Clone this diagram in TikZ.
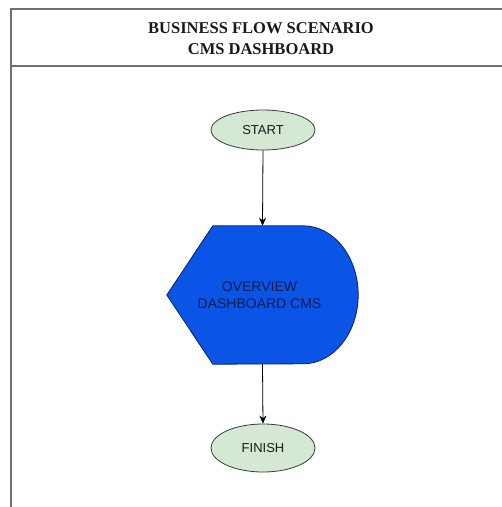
\documentclass[tikz,border=0pt]{standalone}
\usepackage{fontspec}
\setmainfont{Liberation Serif}
\newfontfamily\arialfont{Liberation Sans}
\usetikzlibrary{calc,arrows.meta,shapes.geometric}
\definecolor{framegray}{HTML}{707070}
\definecolor{termfill}{HTML}{D5E8D4}
\definecolor{termdraw}{HTML}{3A3A3A}
\definecolor{dispfill}{HTML}{0A54E6}
\definecolor{dispdraw}{HTML}{0A1E6E}
\definecolor{disptext}{HTML}{0C1A50}
\tikzset{
  frameline/.style={draw=framegray, line width=1.6pt},
  terminal/.style={ellipse, draw=termdraw, line width=0.8pt, fill=termfill,
    minimum width=104pt, inner sep=0pt,
    font=\arialfont\fontsize{13}{15}\selectfont, text=black!90},
  flow/.style={draw=black, line width=0.8pt,
    -{Stealth[length=8pt,width=7pt,inset=2.5pt]}},
}
\begin{document}
\begin{tikzpicture}[x=1pt,y=-1pt]
  \useasboundingbox (0,0) rectangle (502,507);
  \fill[white] (0,0) rectangle (502,507);

  % outer frame and title band
  \coordinate (ftl) at (11,9);
  \coordinate (ftr) at (503,9);
  \coordinate (fbl) at (11,508);
  \coordinate (hl) at (11,66);
  \coordinate (hr) at (503,66);
  \draw[frameline] (ftr) -- (ftl) -- (fbl);
  \draw[frameline] (hl) -- (hr);
  \node[font=\bfseries\fontsize{16.5}{21}\selectfont, align=center, text=black!90] (title)
    at (261,38.5) {BUSINESS FLOW SCENARIO\\CMS DASHBOARD};

  % terminals
  \node[terminal, minimum height=40pt] (start) at (263,130) {START};
  \node[terminal, minimum height=48pt] (finish) at (263,448) {FINISH};

  % display-shaped process step
  \node[minimum width=191pt, minimum height=138pt, inner sep=0pt] (ov) at (262.5,295) {};
  \draw[fill=dispfill, draw=dispdraw, line width=0.8pt]
    (ov.west) -- ($(ov.north west)+(46,0)$) -- ($(ov.north east)+(-55,0)$)
    arc[start angle=90, end angle=-90, x radius=55pt, y radius=69pt]
    -- ($(ov.south west)+(46,0)$) -- cycle;
  \node[font=\arialfont\fontsize{14}{16.5}\selectfont, align=center, text=disptext]
    (ovlabel) at (259.5,295) {OVERVIEW\\DASHBOARD CMS};

  % connectors
  \draw[flow] (start.south) -- (ov.north);
  \draw[flow] (ov.south) -- (finish.north);
\end{tikzpicture}
\end{document}
